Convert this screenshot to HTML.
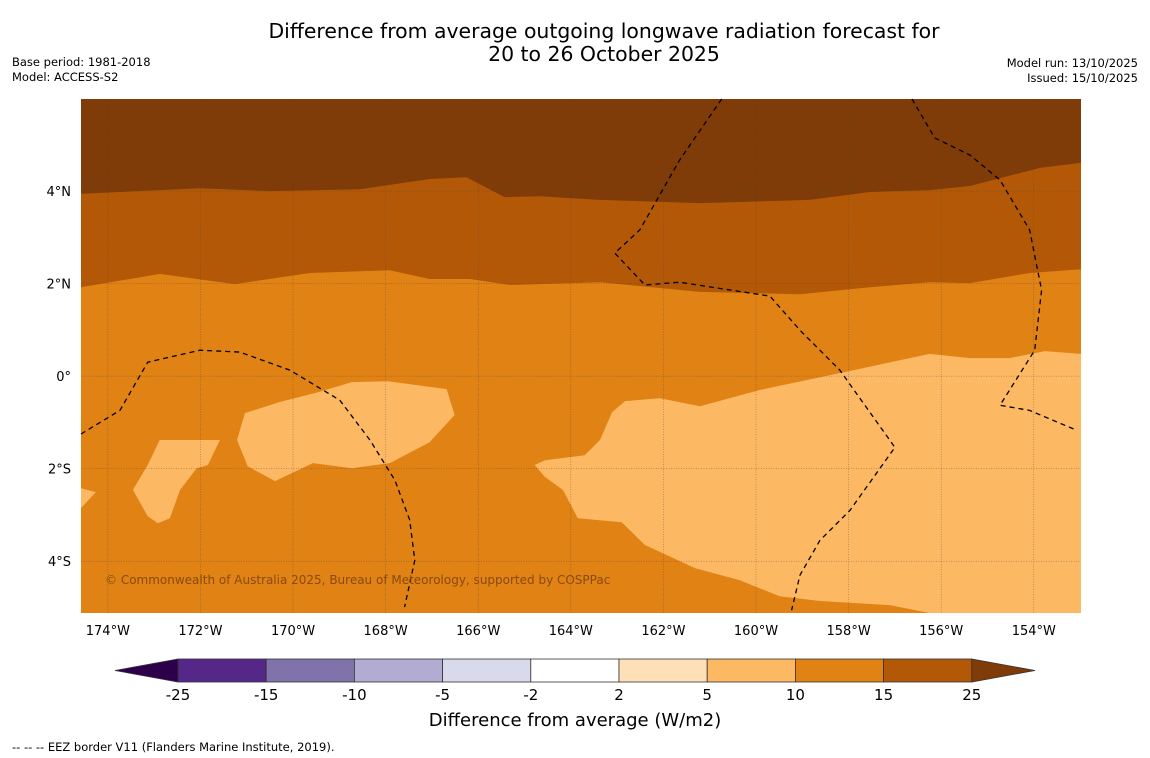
<!DOCTYPE html>
<html><head><meta charset="utf-8">
<style>
body{margin:0;background:#fff;width:1150px;height:758px;overflow:hidden;font-family:"Liberation Sans","DejaVu Sans",sans-serif}
svg{display:block}
</style></head>
<body>
<svg id="chart" width="1150" height="758" xmlns="http://www.w3.org/2000/svg" font-family="DejaVu Sans, Liberation Sans, sans-serif">
<text x="604" y="38" font-size="20.4" text-anchor="middle">Difference from average outgoing longwave radiation forecast for</text>
<text x="604" y="61" font-size="20.4" text-anchor="middle">20 to 26 October 2025</text>
<text x="12" y="66" font-size="11.5">Base period: 1981-2018</text>
<text x="12" y="81" font-size="11.5">Model: ACCESS-S2</text>
<text x="1138" y="67" font-size="11.5" text-anchor="end">Model run: 13/10/2025</text>
<text x="1138" y="82" font-size="11.5" text-anchor="end">Issued: 15/10/2025</text>
<g id="map"></g>
<g id="cbar"></g>
<text x="575" y="726" font-size="18" text-anchor="middle">Difference from average (W/m2)</text>
<text x="12" y="751" font-size="11.5">--  --  -- EEZ border V11 (Flanders Marine Institute, 2019).</text>
</svg>
<script>
const lonTicks=[-174,-172,-170,-168,-166,-164,-162,-160,-158,-156,-154];
const latTicks=[-4,-2,0,2,4];
const lonMin=-174.58, lonMax=-152.98, latMin=-5.12, latMax=5.99;
const band25=[[-174.58,3.94],[-172.01,4.06],[-170.5,4.0],[-168.56,4.04],[-167.05,4.26],[-166.25,4.30],[-165.43,3.87],[-164.67,3.89],[-163.37,3.81],[-161.21,3.74],[-158.84,3.81],[-157.54,3.98],[-156.25,4.02],[-155.38,4.11],[-153.87,4.50],[-152.98,4.61]];
const band15=[[-174.58,1.92],[-172.88,2.21],[-171.26,1.99],[-169.64,2.23],[-167.91,2.29],[-167.05,2.10],[-166.18,2.10],[-165.32,1.97],[-163.37,2.03],[-161.21,1.82],[-159.05,1.77],[-157.54,1.92],[-156.25,2.03],[-155.38,2.01],[-154.09,2.23],[-152.98,2.31]];
const lightEast=[[-164.78,-1.92],[-164.56,-1.82],[-163.70,-1.71],[-163.37,-1.38],[-163.11,-0.78],[-162.83,-0.54],[-162.08,-0.48],[-161.21,-0.65],[-159.92,-0.30],[-158.41,0.02],[-156.25,0.48],[-155.38,0.39],[-154.52,0.39],[-153.76,0.54],[-152.98,0.48],[-152.98,-5.12],[-156.25,-5.12],[-157.11,-4.95],[-158.62,-4.86],[-159.49,-4.76],[-160.35,-4.41],[-161.32,-4.15],[-162.40,-3.65],[-162.90,-3.16],[-163.85,-3.07],[-164.17,-2.46],[-164.56,-2.18]];
const lightMid=[[-171.04,-0.80],[-170.29,-0.56],[-169.46,-0.35],[-168.73,-0.13],[-167.95,-0.11],[-166.68,-0.28],[-166.51,-0.84],[-167.05,-1.43],[-167.91,-1.88],[-168.73,-1.99],[-169.57,-1.88],[-170.39,-2.27],[-170.98,-1.95],[-171.21,-1.38]];
const lightWest=[[-172.88,-1.38],[-171.58,-1.38],[-171.84,-1.92],[-172.08,-1.99],[-172.44,-2.46],[-172.66,-3.07],[-172.92,-3.18],[-173.14,-3.03],[-173.46,-2.46],[-173.14,-1.92]];
const lightEdge=[[-174.58,-2.42],[-174.26,-2.51],[-174.58,-2.85]];
const eez1=[[-174.58,-1.25],[-173.74,-0.74],[-173.14,0.30],[-172.01,0.56],[-171.15,0.52],[-170.07,0.13],[-168.99,-0.52],[-168.34,-1.38],[-167.80,-2.25],[-167.48,-3.11],[-167.37,-3.98],[-167.59,-4.99]];
const eez2=[[-160.74,5.99],[-161.65,4.67],[-162.51,3.16],[-163.05,2.66],[-162.40,1.97],[-161.65,2.03],[-159.70,1.73],[-159.05,0.99],[-158.19,0.13],[-157.0,-1.54],[-157.97,-2.90],[-158.62,-3.55],[-159.05,-4.30],[-159.23,-5.06]];
const eez3=[[-156.63,5.99],[-156.14,5.15],[-155.38,4.78],[-154.73,4.24],[-154.09,3.16],[-153.83,1.86],[-153.98,0.56],[-154.73,-0.63],[-154.09,-0.74],[-153.07,-1.17]];
const cbLevels=["-25","-15","-10","-5","-2","2","5","10","15","25"];
const cbColors=["#542788","#8073ac","#b2abd2","#d8daeb","#ffffff","#fee0b6","#fdb863","#e08214","#b35806"];

const X0=81,X1=1081,Y0=99,Y1=613;
const xs=l=>X0+(l-lonMin)/(lonMax-lonMin)*(X1-X0);
const ys=l=>Y0+(latMax-l)/(latMax-latMin)*(Y1-Y0);
const NS="http://www.w3.org/2000/svg";
const map=document.getElementById('map');
function mk(tag,attrs,parent){const e=document.createElementNS(NS,tag);for(const k in attrs)e.setAttribute(k,attrs[k]);parent.appendChild(e);return e;}
const pts=a=>a.map(p=>xs(p[0]).toFixed(1)+','+ys(p[1]).toFixed(1)).join(' ');
let r=mk('rect',{x:X0,y:Y0,width:X1-X0,height:Y1-Y0,fill:'#e08214'},map);


let p=mk('polygon',{points:pts([[lonMin,latMax],...band15,[lonMax,latMax]]),fill:'#b35806'},map);


p=mk('polygon',{points:pts([[lonMin,latMax],...band25,[lonMax,latMax]]),fill:'#7f3b08'},map);


[lightEast,lightMid,lightWest,lightEdge].forEach(a=>{
 const q=mk('polygon',{points:pts(a),fill:'#fdb863'},map);
 
 
});
lonTicks.forEach(l=>{
 const g=mk('line',{x1:xs(l),x2:xs(l),y1:Y0,y2:Y1,stroke:'#444','stroke-width':0.5,'stroke-dasharray':'1,1.5','stroke-opacity':0.7},map);
 
 
 const t=mk('text',{x:xs(l),y:Y1+22,'font-size':13,'text-anchor':'middle'},map);
 t.textContent=Math.abs(l)+'°W';
 
 
});
latTicks.forEach(l=>{
 const g=mk('line',{x1:X0,x2:X1,y1:ys(l),y2:ys(l),stroke:'#444','stroke-width':0.5,'stroke-dasharray':'1,1.5','stroke-opacity':0.7},map);
 
 
 const t=mk('text',{x:X0-10,y:ys(l)+5,'font-size':13,'text-anchor':'end'},map);
 t.textContent=l===0?'0°':Math.abs(l)+'°'+(l>0?'N':'S');
 
 
});
[eez1,eez2,eez3].forEach(a=>{
 const l=mk('polyline',{points:pts(a),fill:'none',stroke:'#000','stroke-width':1.3,'stroke-dasharray':'5,4'},map);
 
 
});
let c=mk('text',{x:105,y:584,'font-size':12,fill:'#8a4a10'},map);
c.textContent='© Commonwealth of Australia 2025, Bureau of Meteorology, supported by COSPPac';



const cb=document.getElementById('cbar');
const cbX0=178,cbW=88.2,cbY=659,cbH=23;
cbColors.forEach((col,i)=>{
 const b=mk('rect',{x:cbX0+i*cbW,y:cbY,width:cbW,height:cbH,fill:col,stroke:'#333','stroke-width':0.8},cb);
 
 
});
const cbEnd=cbX0+cbColors.length*cbW;
let tl=mk('polygon',{points:`${cbX0},${cbY} 115,${cbY+cbH/2} ${cbX0},${cbY+cbH}`,fill:'#2d004b',stroke:'#333','stroke-width':0.8},cb);


let tr=mk('polygon',{points:`${cbEnd},${cbY} 1035,${cbY+cbH/2} ${cbEnd},${cbY+cbH}`,fill:'#7f3b08',stroke:'#333','stroke-width':0.8},cb);


cbLevels.forEach((v,i)=>{
 const t=mk('text',{x:cbX0+i*cbW,y:700,'font-size':15,'text-anchor':'middle'},cb);
 t.textContent=v;
 
 
});
</script>
</body></html>
